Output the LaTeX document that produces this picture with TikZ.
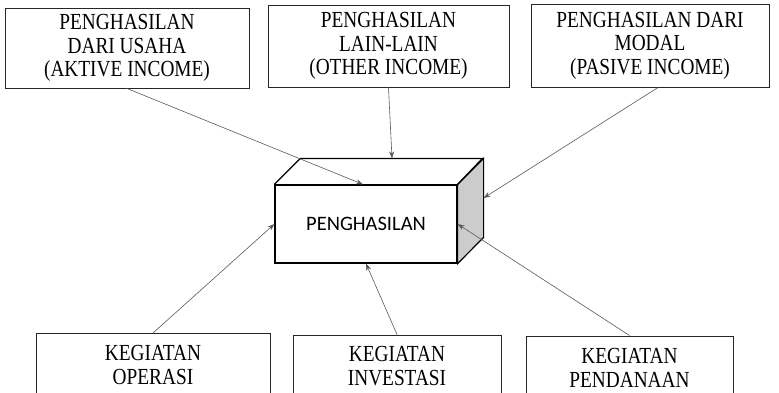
\documentclass[tikz,border=0pt]{standalone}
\usepackage{fontspec}
\setmainfont{Liberation Serif}
\newfontfamily\sempit[FakeStretch=0.84]{Liberation Serif}
\newfontfamily\calibri{Carlito}
\usepackage{tikz}
\usetikzlibrary{arrows.meta}
\tikzstyle{sumber} = [rectangle, draw=black!85, line width=1pt, inner sep=0pt,
text centered, align=center, font=\sempit\fontsize{23}{23.5}\selectfont]
\tikzstyle{kegiatan} = [rectangle, draw=black!85, line width=1pt, inner sep=0pt,
text centered, align=center, minimum height=63pt,
font=\sempit\fontsize{23}{24}\selectfont]
\tikzstyle{kotak} = [rectangle, draw=black, line width=1.2pt, inner sep=0pt,
minimum width=182pt, minimum height=78pt, font=\calibri\fontsize{20.5}{23}\selectfont]
\tikzstyle{arrow} =
[draw=black!65, line width=0.6pt, ->, >={Stealth[length=7pt,width=5pt]}]

\begin{document}
\begin{tikzpicture}[x=1pt, y=-1pt]
\path[use as bounding box, clip] (0,0) rectangle (779,392);

\node(aktif)[sumber, minimum width=244pt, minimum height=80pt] at (127,48)
{PENGHASILAN\\DARI USAHA\\(AKTIVE INCOME)};
\node(lain)[sumber, minimum width=241pt, minimum height=82pt] at (388.5,46)
{PENGHASILAN\\LAIN-LAIN\\(OTHER INCOME)};
\node(modal)[sumber, minimum width=238pt, minimum height=83pt] at (650,45.5)
{PENGHASILAN DARI\\MODAL\\(PASIVE INCOME)};

% kotak tiga dimensi
\node(pusat)[kotak] at (366,224){PENGHASILAN};
\draw[line width=1.2pt, fill=black!20] (pusat.north east) -- ++(26,-26) -- ++(0,79)
-- (pusat.south east) -- cycle;
\draw[line width=1.2pt] (pusat.north west) -- ++(26,-26) -- ++(182,0)
-- (pusat.north east);
\coordinate(atas) at ([xshift=26pt,yshift=26pt]pusat.north);
\coordinate(sisi) at ([xshift=26pt,yshift=26pt]pusat.east);

\node(operasi)[kegiatan, minimum width=234pt] at (153,365){KEGIATAN\\OPERASI};
\node(investasi)[kegiatan, minimum width=208pt] at (397,366.5){KEGIATAN\\INVESTASI};
\node(pendanaan)[kegiatan, minimum width=207pt] at (629.5,367.5){KEGIATAN\\PENDANAAN};

\draw[arrow](aktif.south) -- ([xshift=-3pt]pusat.north);
\draw[arrow](lain.south) -- (atas);
\draw[arrow]([xshift=8pt]modal.south) -- (sisi);
\draw[arrow](operasi.north) -- (pusat.west);
\draw[arrow](investasi.north) -- (pusat.south);
\draw[arrow](pendanaan.north) -- (pusat.east);

\end{tikzpicture}
\end{document}
